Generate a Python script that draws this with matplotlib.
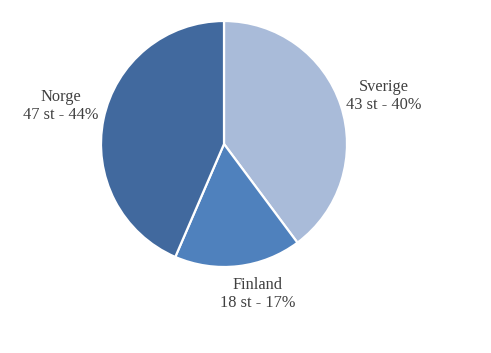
import matplotlib
matplotlib.use("Agg")
import matplotlib.pyplot as plt

countries = ["Sverige", "Finland", "Norge"]
counts = [43, 18, 47]
colors = ["#a9bbd9", "#4f81bd", "#41699e"]

W, H = 491, 353
fig = plt.figure(figsize=(W / 100, H / 100), dpi=100)
ax = fig.add_axes([0, 0, 1, 1])

cx, cy, r = 224, H - 144, 123
ax.pie(counts, colors=colors, startangle=90, counterclock=False,
       center=(cx, cy), radius=r, frame=True,
       wedgeprops=dict(edgecolor="white", linewidth=1.6))
ax.set_xlim(0, W)
ax.set_ylim(0, H)
ax.set_aspect("equal")
ax.axis("off")

total = sum(counts)
label_pos = [(384, H - 96), (258, H - 294), (61, H - 106)]
for name, c, (x, y) in zip(countries, counts, label_pos):
    pct = round(100 * c / total)
    ax.text(x, y, f"{name}\n{c} st - {pct}%", ha="center", va="center",
            fontsize=11.8, family="Liberation Serif", color="#404040",
            linespacing=1.1)

fig.savefig("out.png", dpi=100)
